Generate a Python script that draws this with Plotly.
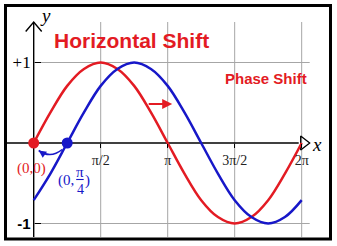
import math
import plotly.graph_objects as go

# ---- data ----
x_frac_pi = [0, 0.125, 0.25, 0.375, 0.5, 0.625, 0.75, 0.875, 1.0,
             1.125, 1.25, 1.375, 1.5, 1.625, 1.75, 1.875, 2.0]
red_vals = [0, 0.38, 0.71, 0.92, 1.0, 0.92, 0.71, 0.38, 0,
            -0.38, -0.71, -0.92, -1.0, -0.92, -0.71, -0.38, 0]
blue_vals = [-0.71, -0.38, 0, 0.38, 0.71, 0.92, 1.0, 0.92, 0.71,
             0.38, 0, -0.38, -0.71, -0.92, -1.0, -0.92, -0.71]
x_tick_vals_pi = [0.5, 1.0, 1.5, 2.0]
x_tick_text = ["π/2", "π", "3π/2", "2π"]
y_tick_vals = [1, -1]
y_tick_text = ["+1", '<span style="font-family:Liberation Sans;font-size:15px"><b>-1</b></span>']
red_point = (0.0, 0.0)
blue_point = (math.pi / 4, 0.0)

RED = "#e31b23"
BLUE = "#1717c8"
GRID = "#a6a6a6"

W, H = 337, 246
X0PX, Y0PX = 33.7, 143.0
PX, PY = 42.65, 80.5   # pixels per data unit


def dx(p):
    return p / PX


def dy(p):
    return p / PY


xs = [f * math.pi for f in x_frac_pi]
xt = [f * math.pi for f in x_tick_vals_pi]

x_left, x_right = -X0PX / PX, (W - X0PX) / PX
y_bottom, y_top = -(H - Y0PX) / PY, Y0PX / PY

fig = go.Figure()

axis_top = dy(121)
axis_bottom = -dy(94)
axis_left = -dx(27)
arrow_x = dx(270)

shapes = []
# grid lines
for v in xt:
    shapes.append(dict(type="line", x0=v, x1=v, y0=axis_bottom, y1=axis_top,
                       line=dict(color=GRID, width=1), layer="below"))
for v in y_tick_vals:
    shapes.append(dict(type="line", x0=0, x1=dx(276), y0=v, y1=v,
                       line=dict(color=GRID, width=1), layer="below"))
# axes
shapes.append(dict(type="line", x0=axis_left, x1=arrow_x - dx(5), y0=0, y1=0,
                   line=dict(color="black", width=1.4), layer="below"))
shapes.append(dict(type="line", x0=0, x1=0, y0=axis_bottom, y1=axis_top,
                   line=dict(color="black", width=1.4), layer="below"))
# curved arrow between the two points
sx, sy = blue_point[0] - dx(5), -dy(6.5)
ex, ey = red_point[0] + dx(5), -dy(7.5)
cx, cy = (sx + ex) / 2, -dy(16)
shapes.append(dict(type="path",
                   path=f"M {sx},{sy} Q {cx},{cy} {ex},{ey}",
                   line=dict(color=BLUE, width=1.6)))
# fraction bar
shapes.append(dict(type="line", x0=dx(42.5), x1=dx(50), y0=-dy(36.5), y1=-dy(36.5),
                   line=dict(color=BLUE, width=1.1)))
# frame
shapes.append(dict(type="rect", xref="paper", yref="paper",
                   x0=5.5 / W, x1=330.5 / W, y0=1 - 239 / H, y1=1 - 5.5 / H,
                   line=dict(color="black", width=3)))

# y-axis chevron
fig.add_trace(go.Scatter(x=[-dx(8), 0, dx(8)], y=[axis_top - dy(9.5), axis_top, axis_top - dy(9.5)],
                         mode="lines", line=dict(color="black", width=1.4), hoverinfo="skip"))
# x-axis open triangle
fig.add_trace(go.Scatter(x=[arrow_x], y=[0], mode="markers",
                         marker=dict(symbol="triangle-right-open", size=12, color="black",
                                     line=dict(color="black", width=1.3)),
                         hoverinfo="skip"))

fig.add_trace(go.Scatter(x=xs, y=red_vals, mode="lines",
                         line=dict(color=RED, width=2.5, shape="spline")))
fig.add_trace(go.Scatter(x=xs, y=blue_vals, mode="lines",
                         line=dict(color=BLUE, width=2.5, shape="spline")))
fig.add_trace(go.Scatter(x=[red_point[0]], y=[red_point[1]], mode="markers",
                         marker=dict(color=RED, size=11)))
fig.add_trace(go.Scatter(x=[blue_point[0]], y=[blue_point[1]], mode="markers",
                         marker=dict(color=BLUE, size=11)))

serif = "Liberation Serif"
sans = "Liberation Sans"


def label(x, y, text, family, size, color, **kw):
    d = dict(x=x, y=y, text=text, showarrow=False,
             font=dict(family=family, size=size, color=color))
    d.update(kw)
    return d


annotations = [
    label(dx(97.3), dy(103), "<b>Horizontal Shift</b>", sans, 21, RED),
    label(dx(232.3), dy(65), "<b>Phase Shift</b>", sans, 15, RED),
    label(dx(11.5), dy(128), "<i>y</i>", serif, 19, "black"),
    label(dx(283), dy(-1), "<i>x</i>", serif, 19, "black"),
    label(-dx(2), -dy(25), "(0,0)", serif, 15, RED),
    label(dx(42), -dy(37), "(0,", serif, 15, BLUE, xanchor="right"),
    label(dx(46.3), -dy(29), "π", serif, 15, BLUE),
    label(dx(46.3), -dy(46), "4", serif, 14, BLUE),
    label(dx(54), -dy(37), ")", serif, 15, BLUE),
    # phase shift arrow
    dict(x=dx(138.5), y=dy(39), ax=dx(113.5), ay=dy(39), axref="x", ayref="y",
         text="", showarrow=True, arrowhead=2, arrowsize=1, arrowwidth=2, arrowcolor=RED),
    # head of curved arrow
    dict(x=ex, y=ey, ax=ex + dx(5), ay=ey - dy(3.5), axref="x", ayref="y",
         text="", showarrow=True, arrowhead=2, arrowsize=1, arrowwidth=1.5, arrowcolor=BLUE),
]

fig.update_layout(
    width=W, height=H, margin=dict(l=0, r=0, t=0, b=0),
    paper_bgcolor="white", plot_bgcolor="white", showlegend=False,
    shapes=shapes, annotations=annotations,
    xaxis=dict(range=[x_left, x_right], anchor="free", position=(H - Y0PX) / H,
               showgrid=False, zeroline=False, showline=False,
               tickvals=xt, ticktext=x_tick_text, ticks="outside", ticklen=4,
               tickcolor="black", tickfont=dict(family=serif, size=14, color="#222")),
    yaxis=dict(range=[y_bottom, y_top], anchor="free", position=X0PX / W,
               showgrid=False, zeroline=False, showline=False,
               tickvals=y_tick_vals, ticktext=y_tick_text, ticks="inside", ticklen=6,
               ticklabelstandoff=3,
               tickcolor="black", tickfont=dict(family=serif, size=17, color="black")),
)

fig.write_html("out.html")
